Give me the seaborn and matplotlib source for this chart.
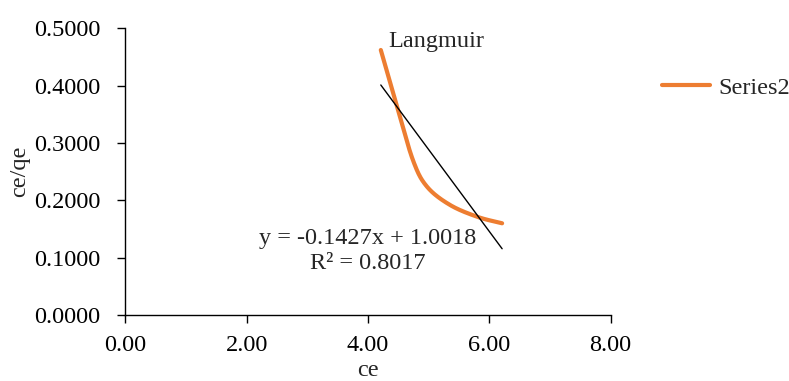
import numpy as np
import pandas as pd
import matplotlib
matplotlib.use("Agg")
import matplotlib.pyplot as plt
import seaborn as sns

# Langmuir isotherm data
ce = [4.21, 4.47, 4.74, 4.97, 5.35, 5.81, 6.21]
ce_qe = [0.462, 0.366, 0.270, 0.224, 0.192, 0.171, 0.160]

# Linear trendline reported on the chart
slope = -0.1427
intercept = 1.0018
r_squared = 0.8017

x_ticks = [0, 2, 4, 6, 8]
y_ticks = [0.0, 0.1, 0.2, 0.3, 0.4, 0.5]

sns.set_theme(style="ticks")
plt.rcParams["font.family"] = ["Liberation Serif", "DejaVu Serif"]

FS = 17.5

def catmull_rom(xs, ys, n=40):
    """Smooth curve through the given points (uniform Catmull-Rom spline)."""
    p = np.column_stack([xs, ys]).astype(float)
    p = np.vstack([p[0] - (p[1] - p[0]), p, p[-1] + (p[-1] - p[-2])])
    out = []
    for i in range(1, len(p) - 2):
        p0, p1, p2, p3 = p[i - 1], p[i], p[i + 1], p[i + 2]
        t = np.linspace(0, 1, n, endpoint=(i == len(p) - 3))[:, None]
        seg = 0.5 * ((2 * p1) + (-p0 + p2) * t + (2 * p0 - 5 * p1 + 4 * p2 - p3) * t ** 2
                     + (-p0 + 3 * p1 - 3 * p2 + p3) * t ** 3)
        out.append(seg)
    out = np.vstack(out)
    return out[:, 0], out[:, 1]

sx, sy = catmull_rom(ce, ce_qe)
curve = pd.DataFrame({"ce": sx, "ce/qe": sy, "series": "Series2"})

fig = plt.figure(figsize=(7.89, 3.81), dpi=100)
ax = fig.add_axes([0.159, 0.173, 0.615, 0.753])

sns.lineplot(data=curve, x="ce", y="ce/qe", hue="series", palette=["#ED7D31"],
             linewidth=3, sort=False, estimator=None, ax=ax, legend=True)

# trendline over the data range
tx = np.array([min(ce), max(ce)])
sns.lineplot(x=tx, y=slope * tx + intercept, color="black", linewidth=1, ax=ax, legend=False)

ax.set_xlim(0, 8)
ax.set_ylim(0, 0.5)
ax.set_xticks(x_ticks)
ax.set_yticks(y_ticks)
ax.set_xticklabels([f"{v:.2f}" for v in x_ticks])
ax.set_yticklabels([f"{v:.4f}" for v in y_ticks])
ax.tick_params(axis="both", labelsize=FS, length=6, width=1, color="black", labelcolor="black")
ax.tick_params(axis="y", pad=12)
ax.tick_params(axis="x", pad=8)
for s in ["top", "right"]:
    ax.spines[s].set_visible(False)
for s in ["left", "bottom"]:
    ax.spines[s].set_color("black")
    ax.spines[s].set_linewidth(1)

ax.set_xlabel("ce", fontsize=FS, labelpad=3)
ax.set_ylabel("ce/qe", fontsize=FS, labelpad=3)

ax.text(5.13, 0.477, "Langmuir", fontsize=FS, ha="center", va="center")
ax.text(4.0, 0.112, f"y = {slope}x + {intercept}\nR² = {r_squared}",
        fontsize=FS, ha="center", va="center", linespacing=1.25)

handles, labels = ax.get_legend_handles_labels()
ax.legend(handles, ["Series2"], loc="center left", bbox_to_anchor=(1.105, 0.792),
          frameon=False, fontsize=FS, handlelength=2.0, handletextpad=0.35,
          borderpad=0, borderaxespad=0)

fig.savefig("out.png", dpi=100)
